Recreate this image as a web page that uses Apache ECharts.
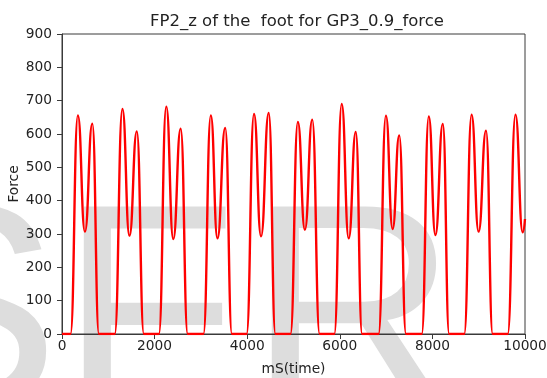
<!DOCTYPE html>
<html>
<head>
<meta charset="utf-8">
<script src="https://cdn.jsdelivr.net/npm/echarts@6/dist/echarts.min.js"></script>
<style>
html,body{margin:0;padding:0;background:#fff;}
#c{width:547px;height:378px;}
</style>
</head>
<body>
<div id="c"></div>
<script>
// time (ms) of key points: zero ends, peaks, valleys, zero starts
const time = [
  0, 184, 343, 495, 655, 798,
  1139, 1305, 1457, 1616, 1768,
  2093, 2252, 2404, 2563, 2715,
  3055, 3214, 3358, 3525, 3670,
  3987, 4147, 4299, 4465, 4610,
  4935, 5094, 5246, 5405, 5564,
  5882, 6041, 6193, 6345, 6482,
  6837, 6996, 7141, 7284, 7430,
  7770, 7922, 8065, 8225, 8362,
  8688, 8846, 8998, 9158, 9302,
  9627, 9794, 9950, 10000
];
const force = [
  0, 0, 656, 307, 631, 0,
  0, 675, 295, 608, 0,
  0, 682, 285, 616, 0,
  0, 656, 287, 618, 0,
  0, 660, 293, 663, 0,
  0, 636, 313, 643, 0,
  0, 690, 287, 606, 0,
  0, 655, 315, 596, 0,
  0, 653, 297, 630, 0,
  0, 658, 307, 610, 0,
  0, 658, 305, 345
];
const xTicks = [0, 2000, 4000, 6000, 8000, 10000];
const yTicks = [0, 100, 200, 300, 400, 500, 600, 700, 800, 900];
const titleText = 'FP2_z of the  foot for GP3_0.9_force';
const xName = 'mS(time)';
const yName = 'Force';
const watermark = ['S', 'F', 'R'];

const chart = echarts.init(document.getElementById('c'), null, {renderer: 'canvas'});
const data = time.map((t, i) => [t, force[i]]);
const axisColor = '#3a3a3a';
const labelColor = '#222';
const font = 'DejaVu Sans';
const wmX = [-134, 60, 248];

chart.setOption({
  animation: false,
  backgroundColor: '#fff',
  graphic: watermark.map((ch, i) => ({
    type: 'text',
    z: -10,
    silent: true,
    style: {
      text: ch,
      x: wmX[i],
      y: 326,
      fill: '#dddddd',
      fontSize: 290,
      fontFamily: 'Liberation Sans',
      fontWeight: 'normal',
      textAlign: 'left',
      textVerticalAlign: 'middle'
    }
  })).concat([{
    type: 'text',
    z: 10,
    style: {
      text: titleText,
      x: 297,
      y: 22,
      fill: labelColor,
      fontSize: 16.5,
      fontFamily: font,
      textAlign: 'center',
      textVerticalAlign: 'middle'
    }
  }]),
  grid: {
    left: 62, top: 34, width: 463, height: 300,
    outerBoundsMode: 'none',
    containLabel: false,
    show: true, borderColor: axisColor, borderWidth: 1,
    backgroundColor: 'transparent'
  },
  xAxis: {
    type: 'value',
    min: xTicks[0], max: xTicks[xTicks.length - 1], interval: xTicks[1] - xTicks[0],
    name: xName, nameLocation: 'middle', nameGap: 28, nameMoveOverlap: false,
    nameTextStyle: {fontFamily: font, fontSize: 13.75, color: labelColor},
    axisLine: {show: true, lineStyle: {color: axisColor, width: 1}},
    axisTick: {show: true, inside: false, length: 5, lineStyle: {color: axisColor}},
    axisLabel: {fontFamily: font, fontSize: 13.75, color: labelColor, margin: 5,
      formatter: v => String(v)},
    splitLine: {show: false}
  },
  yAxis: {
    type: 'value',
    min: yTicks[0], max: yTicks[yTicks.length - 1], interval: yTicks[1] - yTicks[0],
    name: yName, nameLocation: 'middle', nameGap: 41, nameRotate: 90, nameMoveOverlap: false,
    nameTextStyle: {fontFamily: font, fontSize: 13.75, color: labelColor},
    axisLine: {show: true, lineStyle: {color: axisColor, width: 1}},
    axisTick: {show: true, inside: false, length: 5, lineStyle: {color: axisColor}},
    axisLabel: {fontFamily: font, fontSize: 13.75, color: labelColor, margin: 10,
      formatter: v => String(v)},
    splitLine: {show: false}
  },
  series: [{
    type: 'line',
    data: data,
    smooth: 0.5,
    smoothMonotone: 'x',
    showSymbol: false,
    symbol: 'none',
    lineStyle: {color: '#ff0000', width: 2.4},
    clip: true,
    z: 5
  }]
});
</script>
</body>
</html>
